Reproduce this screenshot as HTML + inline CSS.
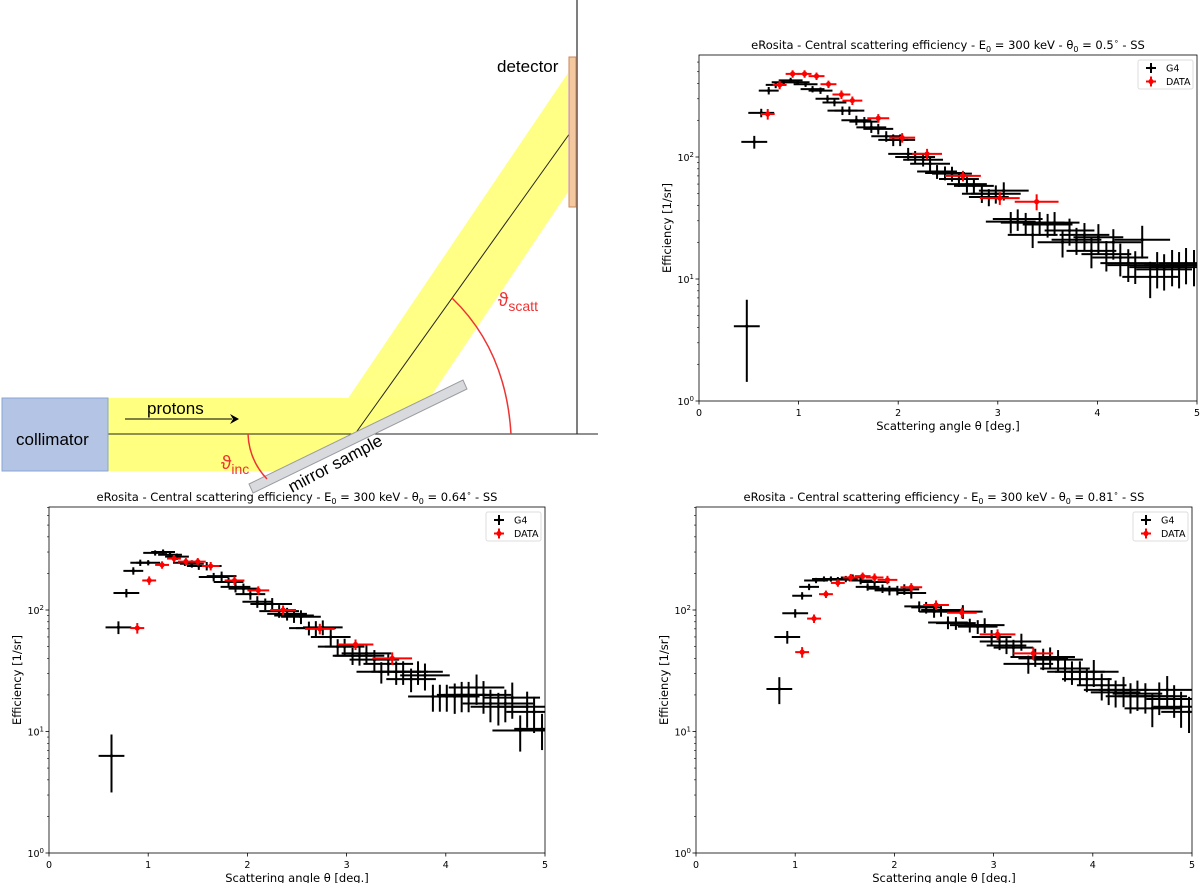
<!DOCTYPE html>
<html><head><meta charset="utf-8"><style>
html,body{margin:0;padding:0;background:#fff;}
svg{display:block;font-family:"DejaVu Sans","Liberation Sans",sans-serif;}
</style></head><body>
<svg id="root" width="1200" height="883" viewBox="0 0 1200 883" xmlns="http://www.w3.org/2000/svg">
<defs>
<clipPath id="c1"><rect x="699" y="55" width="498" height="346"/></clipPath>
<clipPath id="c2"><rect x="49" y="507" width="496" height="346"/></clipPath>
<clipPath id="c3"><rect x="696" y="507" width="496" height="346"/></clipPath>
</defs>
<g>
  <line x1="577" y1="0" x2="577" y2="434" stroke="#555" stroke-width="1.5"/>
  <polygon points="108,398 442,398 286,471 108,471" fill="#ffff80"/>
  <polygon points="330,425 431,396 568,192 568,73" fill="#ffff80" opacity="0.95"/>
  <line x1="108" y1="434" x2="598" y2="434" stroke="#222" stroke-width="1"/>
  <line x1="355" y1="434" x2="570" y2="133" stroke="#222" stroke-width="1"/>
  <polygon points="249,484 463,380 467,389 253,493" fill="#d8dade" stroke="#9a9ca0" stroke-width="1"/>
  <rect x="569" y="57" width="7" height="150" fill="#f4c9a0" stroke="#c8865a"/>
  <rect x="2" y="398" width="106" height="73" fill="#b4c4e4" stroke="#8aa4d4"/>
  <text x="16" y="445" font-family="Liberation Sans,sans-serif" font-size="17">collimator</text>
  <text x="147" y="414" font-family="Liberation Sans,sans-serif" font-size="17">protons</text>
  <line x1="125" y1="419" x2="232" y2="419" stroke="#000" stroke-width="1"/>
  <polygon points="239,419 230,414 233,419 230,424" fill="#000"/>
  <text x="497" y="72" font-family="Liberation Sans,sans-serif" font-size="17">detector</text>
  <text x="0" y="0" font-family="Liberation Sans,sans-serif" font-size="17" transform="translate(292,493) rotate(-28)">mirror sample</text>
  <path d="M452,298 Q506,350 511,434" fill="none" stroke="#e33" stroke-width="1.5"/>
  <path d="M248,434 Q249,460 267,479" fill="none" stroke="#e33" stroke-width="1.5"/>
  <text x="498" y="306" fill="#e33" font-family="Liberation Sans,sans-serif" font-size="19">ϑ<tspan font-size="14" dy="5">scatt</tspan></text>
  <text x="221" y="469" fill="#e33" font-family="Liberation Sans,sans-serif" font-size="19">ϑ<tspan font-size="14" dy="5">inc</tspan></text>
</g>
<g id="p1"></g>
<g id="p2"></g>
<g id="p3"></g>
</svg>
<script>
const g4XErr=[0.13,0.13,0.13,0.10,0.10,0.12,0.12,0.12,0.12,0.12,0.12,0.12,0.12,0.15,0.15,0.15,0.15,0.15,0.15,0.15,0.15,0.15,0.2,0.2,0.2,0.2,0.2,0.2,0.2,0.2,0.2,0.2,0.2,0.2,0.25,0.25,0.25,0.25,0.25,0.25,0.25,0.25,0.25,0.25,0.25,0.25,0.25,0.25,0.25,0.25,0.28,0.28,0.28,0.28,0.28,0.28,0.28,0.28,0.28,0.28,0.28,0.28];
const g4YErr=[0.65,0.12,0.08,0.07,0.06,0.05,0.05,0.05,0.05,0.06,0.06,0.07,0.07,0.08,0.08,0.09,0.09,0.1,0.1,0.1,0.11,0.11,0.12,0.12,0.12,0.13,0.13,0.13,0.14,0.14,0.15,0.15,0.16,0.16,0.17,0.17,0.2,0.2,0.2,0.22,0.22,0.22,0.22,0.25,0.25,0.25,0.25,0.28,0.28,0.28,0.28,0.3,0.3,0.3,0.3,0.33,0.33,0.33,0.33,0.33,0.33,0.33];
const blFirstYErr=[0.5];
const brFirstYErr=[0.25];
const dataXErr=[0.07,0.07,0.07,0.07,0.08,0.08,0.09,0.1,0.11,0.13,0.15,0.18,0.2,0.22];
const dataYErr=[0.1,0.08,0.07,0.07,0.07,0.07,0.08,0.08,0.08,0.09,0.1,0.1,0.12,0.15];
const xTicks=[0,1,2,3,4,5];
const yDecades=[0,1,2];

const tr_g4_x=[0.48,0.555,0.625,0.70,0.77,0.85,0.92,0.99,1.07,1.14,1.22,1.29,1.36,1.44,1.51,1.58,1.66,1.73,1.80,1.88,1.95,2.02,2.10,2.17,2.25,2.32,2.39,2.47,2.54,2.61,2.69,2.76,2.84,2.91,2.98,3.06,3.13,3.20,3.28,3.35,3.42,3.50,3.57,3.65,3.72,3.79,3.87,3.94,4.01,4.09,4.16,4.23,4.31,4.38,4.45,4.53,4.60,4.67,4.75,4.82,4.89,4.97];
const tr_g4_y=[4.1,133,230,350,390,410,425,410,395,360,350,300,280,240,240,200,195,175,170,148,138,138,106,100,95,88,76,74,73,66,60,58,50,47,50,53,29.5,31,29,23,29,28,29,20,25,21,23,17,22,16,20,15,13.5,13,21,10.4,12.5,12,13,12.5,13.5,13];
const tr_data_x=[0.69,0.81,0.94,1.06,1.18,1.30,1.43,1.54,1.80,2.04,2.29,2.65,3.02,3.39];
const tr_data_y=[225,390,480,480,460,395,325,290,208,144,106,70,46,43];

const bl_g4_x=[0.63,0.70,0.78,0.85,0.92,1.00,1.07,1.15,1.22,1.29,1.37,1.44,1.51,1.59,1.66,1.74,1.81,1.88,1.96,2.03,2.10,2.18,2.25,2.32,2.40,2.47,2.54,2.62,2.69,2.76,2.84,2.91,2.98,3.06,3.13,3.20,3.28,3.35,3.42,3.50,3.57,3.65,3.72,3.79,3.87,3.94,4.01,4.09,4.16,4.23,4.31,4.38,4.45,4.53,4.60,4.67,4.75,4.82,4.89,4.97];
const bl_g4_y=[6.3,72,138,210,245,245,295,300,285,275,245,240,230,230,187,190,170,155,150,135,117,112,112,98,93,90,88,71,71,72,60,50,50,42,42,44,39,31,36,31,31,27,31,29,19.4,19.4,19.4,19.4,20,20,23,20,17,16,17,19,10.2,16,14.5,10.5];
const bl_data_x=[0.89,1.01,1.14,1.26,1.38,1.50,1.63,1.87,2.11,2.36,2.73,3.09,3.46];
const bl_data_y=[71,175,235,265,250,250,230,175,145,100,70,52,40];

const br_g4_x=[0.84,0.92,1.0,1.07,1.14,1.21,1.29,1.36,1.43,1.51,1.58,1.66,1.73,1.80,1.88,1.95,2.03,2.10,2.17,2.25,2.32,2.40,2.47,2.54,2.62,2.69,2.76,2.84,2.91,2.98,3.06,3.13,3.20,3.28,3.35,3.42,3.50,3.57,3.65,3.72,3.79,3.87,3.94,4.01,4.09,4.16,4.23,4.31,4.38,4.45,4.53,4.60,4.67,4.75,4.82,4.89,4.97];
const br_g4_y=[22.4,60,94,131,155,175,180,180,178,180,185,175,155,170,150,145,145,148,138,107,105,97,100,79,78,97,75,73,75,60,55,51,49,55,36,41,40,41,39,33,31,31,27,31,24,22,21,22,19.5,20.5,19.5,15.5,19.5,22,18.5,16,14.5];
const br_data_x=[1.07,1.19,1.31,1.43,1.56,1.68,1.80,1.93,2.17,2.42,2.68,3.04,3.40];
const br_data_y=[45,85,135,167,185,190,185,177,154,110,95,63,44];

const NS='http://www.w3.org/2000/svg';
function mk(parent,tag,attrs){const e=document.createElementNS(NS,tag);for(const k in attrs)e.setAttribute(k,attrs[k]);parent.appendChild(e);return e;}

function drawChart(g,L,T,W,H,decPx,theta,clip,legY,ylabX,g4x,g4y,g4ye,dx,dy){
  const B=T+H;
  const xs=v=>L+v/5*W;
  const ys=v=>B-Math.log10(v)*decPx;
  const t=mk(g,'text',{x:L+W/2,y:T-6,'text-anchor':'middle','font-size':'11.5'});
  
  
  t.innerHTML='eRosita - Central scattering efficiency - E<tspan font-size="8" dy="3">0</tspan><tspan dy="-3"> = 300 keV - θ</tspan><tspan font-size="8" dy="3">0</tspan><tspan dy="-3"> = '+theta+'</tspan><tspan font-size="8" dy="-5">∘</tspan><tspan dy="5"> - SS</tspan>';
  const dg=mk(g,'g',{'clip-path':'url(#'+clip+')'});
  
  
  function series(xa,ya,xe,ye,col,name){
    const sg=mk(dg,'g',{});
    
    
    const n=Math.min(xa.length,ya.length);
    for(let i=0;i<n;i++){
      const x=xa[i],y=ya[i],ex=xe[Math.min(i,xe.length-1)],ey=ye[Math.min(i,ye.length-1)];
      const h=mk(sg,'line',{x1:xs(x-ex),x2:xs(x+ex),y1:ys(y),y2:ys(y),stroke:col,'stroke-width':2});
      
      
      const v=mk(sg,'line',{x1:xs(x),x2:xs(x),y1:ys(y*(1-ey)),y2:ys(y*(1+ey)),stroke:col,'stroke-width':2});
      
      
      const c=mk(sg,'circle',{cx:xs(x),cy:ys(y),r:col==='#000'?1.6:2.6,fill:col});
      
      
    }
  }
  series(g4x,g4y,g4XErr,g4ye,'#000','g4-series');
  series(dx,dy,dataXErr,dataYErr,'#f00','data-series');
  const fr=mk(g,'rect',{x:L,y:T,width:W,height:H,fill:'none',stroke:'#000','stroke-width':0.8});
  
  
  xTicks.forEach(v=>{
    const tk=mk(g,'line',{x1:xs(v),x2:xs(v),y1:B,y2:B+3.5,stroke:'#000','stroke-width':0.8});
    
    
    const tl=mk(g,'text',{x:xs(v),y:B+15,'text-anchor':'middle','font-size':'9.5'});
    tl.textContent=v;
    
    
  });
  yDecades.forEach(d=>{
    const y=ys(Math.pow(10,d));
    const tk=mk(g,'line',{x1:L-3.5,x2:L,y1:y,y2:y,stroke:'#000','stroke-width':0.8});
    
    
    const tl=mk(g,'text',{x:L-5,y:y+4,'text-anchor':'end','font-size':'9.5'});
    tl.innerHTML='10<tspan font-size="7" dy="-4">'+d+'</tspan>';
    
    
    for(let m=2;m<=9;m++){
      const yy=ys(m*Math.pow(10,d));
      if(yy<T)break;
      const mt=mk(g,'line',{x1:L-2,x2:L,y1:yy,y2:yy,stroke:'#000','stroke-width':0.6});
      
      
    }
  });
  const xl=mk(g,'text',{x:L+W/2,y:B+29,'text-anchor':'middle','font-size':'11.5'});
  xl.textContent='Scattering angle θ [deg.]';
  
  
  const yl=mk(g,'text',{x:0,y:0,'text-anchor':'middle','font-size':'11.5',transform:'translate('+ylabX+','+(T+H/2)+') rotate(-90)'});
  yl.textContent='Efficiency [1/sr]';
  
  
  const lx=L+W-59, ly=legY;
  const lg=mk(g,'g',{});
  
  
  mk(lg,'rect',{x:lx,y:ly,width:55,height:29,rx:2,fill:'#fff',stroke:'#ddd'});
  [['G4','#000'],['DATA','#f00']].forEach((e,i)=>{
    const yy=ly+8+i*13.5;
    const eg=mk(lg,'g',{});
    
    
    mk(eg,'line',{x1:lx+8,x2:lx+18,y1:yy,y2:yy,stroke:e[1],'stroke-width':2});
    mk(eg,'line',{x1:lx+13,x2:lx+13,y1:yy-5,y2:yy+5,stroke:e[1],'stroke-width':2});
    mk(eg,'circle',{cx:lx+13,cy:yy,r:e[1]==='#000'?1.6:2.6,fill:e[1]});
    const tx=mk(eg,'text',{x:lx+28,y:yy+3.5,'font-size':'9.5'});
    tx.textContent=e[0];
  });
}
drawChart(document.getElementById('p1'),699,55,498,346,122,'0.5','c1',60,671,tr_g4_x,tr_g4_y,g4YErr,tr_data_x,tr_data_y);
drawChart(document.getElementById('p2'),49,507,496,346,121.5,'0.64','c2',512,21,bl_g4_x,bl_g4_y,blFirstYErr.concat(g4YErr.slice(1)),bl_data_x,bl_data_y);
drawChart(document.getElementById('p3'),696,507,496,346,121.5,'0.81','c3',512,668,br_g4_x,br_g4_y,brFirstYErr.concat(g4YErr.slice(1)),br_data_x,br_data_y);
</script>
</body></html>
